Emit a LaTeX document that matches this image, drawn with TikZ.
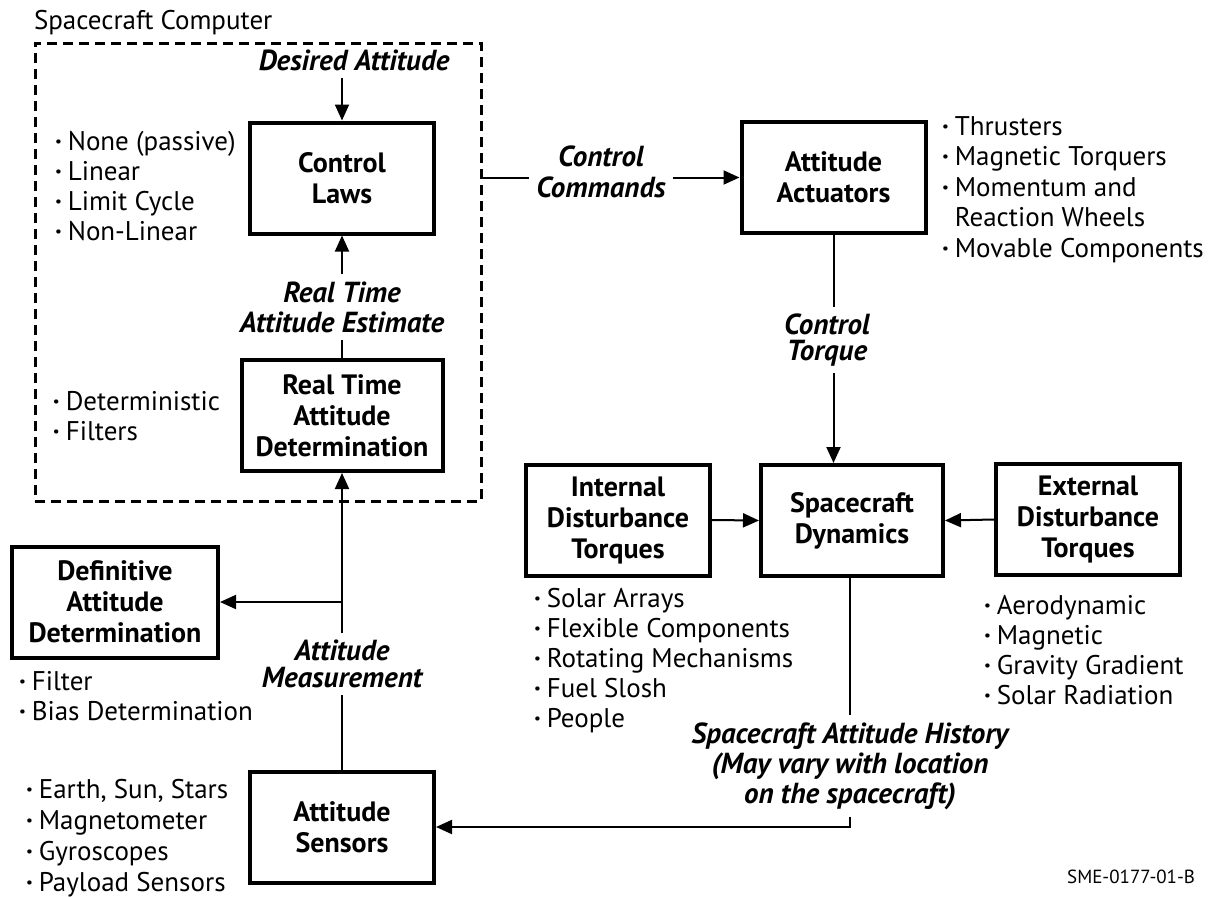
\documentclass[tikz,border=0pt]{standalone}
\usepackage{fontspec}
\setmainfont{PT Sans}
\usetikzlibrary{arrows.meta}

\tikzset{
  blk/.style={draw, line width=2pt, align=center, inner sep=0pt,
    minimum width=92pt, minimum height=55.5pt,
    font=\bfseries\fontsize{14}{15.5}\selectfont},
  lbl/.style={align=center, inner sep=3pt,
    font=\bfseries\itshape\fontsize{14.5}{15}\selectfont},
  lbltight/.style={lbl, font=\bfseries\itshape\fontsize{14.5}{13.2}\selectfont},
  lst/.style={align=left, anchor=base west, inner sep=0pt,
    font=\fontsize{13.5}{15}\selectfont},
  cpu/.style={draw, line width=1.5pt, dash pattern=on 5pt off 3pt},
  arr/.style={-{Triangle[length=8pt,width=7pt]}},
}
\newcommand{\bul}{{\bfseries\textperiodcentered}\hspace{3pt}}

\begin{document}
\begin{tikzpicture}[x=0.5pt,y=-0.5pt,line width=1pt]
\useasboundingbox (0,0) rectangle (1212,896);
\node[cpu, minimum width=223pt, minimum height=229pt] (cpu) at (258,272) {};
\node[anchor=west, inner sep=0pt, font=\fontsize{13.5}{15}\selectfont] (cpuname) at (33,23) {Spacecraft Computer};

\node[blk] (laws) at (342,178) {Control\\Laws};
\node[blk, minimum width=100.5pt] (rtad) at (342,415.5) {Real Time\\Attitude\\Determination};
\node[blk, minimum width=103pt] (defin) at (115,602) {Definitive\\Attitude\\Determination};
\node[blk] (sens) at (342,827) {Attitude\\Sensors};
\node[blk] (act) at (833.5,177.5) {Attitude\\Actuators};
\node[blk] (intd) at (618,520) {Internal\\Disturbance\\Torques};
\node[blk, minimum width=91pt] (dyn) at (852,520.5) {Spacecraft\\Dynamics};
\node[blk] (extd) at (1088,519.5) {External\\Disturbance\\Torques};

\node[lbl] (desired) at (354,60) {Desired Attitude};
\node[lbl, font=\bfseries\itshape\fontsize{14.5}{15.5}\selectfont] (cmd) at (601,172) {Control\\Commands};
\node[lbl] (rtest) at (342,307) {Real Time\\Attitude Estimate};
\node[lbltight] (torque) at (827,340) {Control\\Torque};
\node[lbltight] (meas) at (342,664) {Attitude\\Measurement};
\node[lbl] (hist) at (850,766) {Spacecraft Attitude History\\(May vary with location\\on the spacecraft)};
\node[anchor=east, inner sep=0pt, font=\fontsize{9.5}{11}\selectfont] (sme) at (1196,877) {SME-0177-01-B};

\node[lst] (lawlist) at (54,240) {\bul None (passive)\\\bul Linear\\\bul Limit Cycle\\\bul Non-Linear};
\node[lst] (rtlist) at (52,440) {\bul Deterministic\\\bul Filters};
\node[lst] (deflist) at (18,720) {\bul Filter\\\bul Bias Determination};
\node[lst, font=\fontsize{13.5}{15.5}\selectfont] (senslist) at (25,891) {\bul Earth, Sun, Stars\\\bul Magnetometer\\\bul Gyroscopes\\\bul Payload Sensors};
\node[lst, font=\fontsize{13.5}{15.25}\selectfont] (actlist) at (941,257) {\bul Thrusters\\\bul Magnetic Torquers\\\bul Momentum and\\\phantom{\bul}Reaction Wheels\\\bul Movable Components};
\node[lst] (intlist) at (533,727) {\bul Solar Arrays\\\bul Flexible Components\\\bul Rotating Mechanisms\\\bul Fuel Slosh\\\bul People};
\node[lst] (extlist) at (983,704) {\bul Aerodynamic\\\bul Magnetic\\\bul Gravity Gradient\\\bul Solar Radiation};

\draw[arr] (desired.south -| laws.north) -- (laws.north);
\draw (rtad.north) -- (rtest.south);
\draw[arr] (rtest.north) -- (laws.south);
\draw (sens.north) -- (meas.south);
\draw[arr] (meas.north) -- (rtad.south);
\draw[arr] (meas.north |- defin.east) -- (defin.east);
\draw (cpu.east |- act.west) -- (cmd.west |- act.west);
\draw[arr] (cmd.east |- act.west) -- (act.west);
\draw (act.south) -- (torque.north -| act.south);
\draw[arr] (torque.south -| act.south) -- (act.south |- dyn.north);
\draw[arr] (intd.east) -- (dyn.west);
\draw[arr] (extd.west) -- (dyn.east);
\draw (hist.north |- dyn.south) -- (hist.north);
\draw[arr] (hist.south) |- (sens.east);
\end{tikzpicture}
\end{document}
